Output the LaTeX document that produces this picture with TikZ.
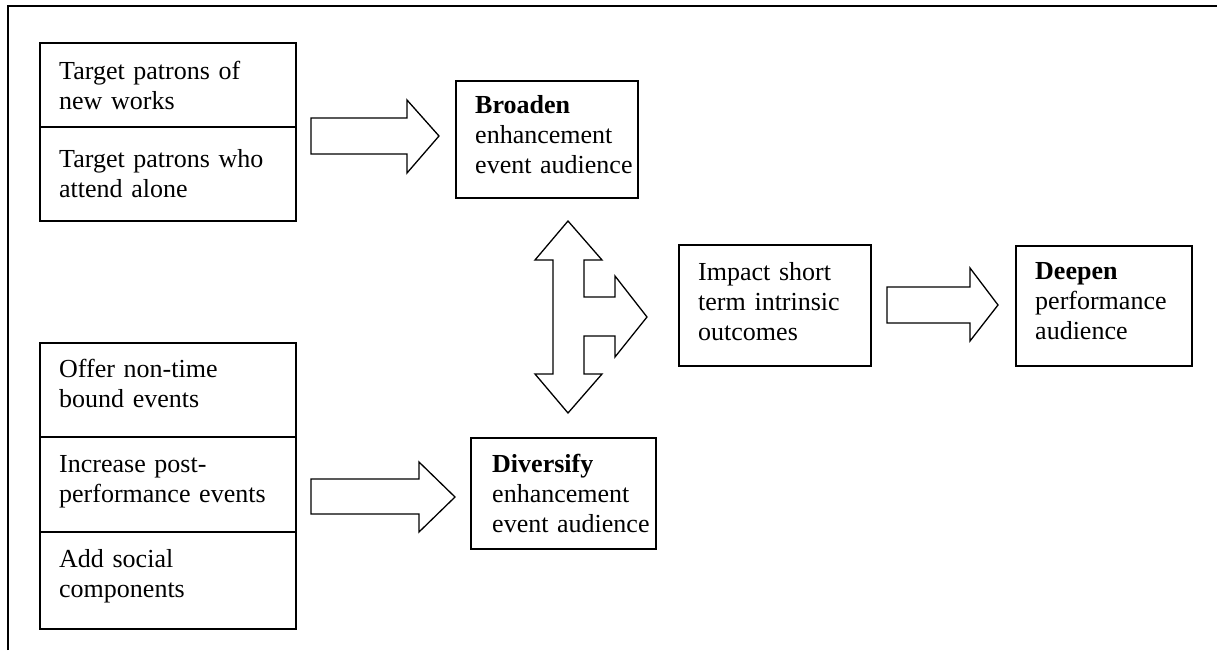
\documentclass[tikz,border=0pt]{standalone}
\usepackage{fontspec}
\setmainfont{Liberation Serif}
\begin{document}
\begin{tikzpicture}[x=1pt,y=-1pt,
  frame/.style={line width=1.8pt},
  cellbox/.style={draw, line width=1.6pt, inner sep=0pt, anchor=north west},
  divider/.style={line width=1.6pt},
  txt/.style={inner sep=0pt, anchor=north west, align=left, text width=240pt, font=\fontsize{26}{30}\selectfont},
  blockarrow/.style={draw, line width=1.3pt, fill=white, line join=miter}]
\useasboundingbox (0,0) rectangle (1217,650);
% outer frame
\draw[frame] (8,650) -- (8,6) -- (1217,6);

% boxes
\node[cellbox, minimum width=256pt, minimum height=178pt] (patrons) at (39,42) {};
\draw[divider] (39,127) -- (295,127);
\node[cellbox, minimum width=256pt, minimum height=286pt] (events) at (39,342) {};
\draw[divider] (39,437) -- (295,437);
\draw[divider] (39,532) -- (295,532);
\node[cellbox, minimum width=182pt, minimum height=117pt] (broaden) at (455,80) {};
\node[cellbox, minimum width=185pt, minimum height=111pt] (diversify) at (470,437) {};
\node[cellbox, minimum width=192pt, minimum height=121pt] (impact) at (678,244) {};
\node[cellbox, minimum width=176pt, minimum height=120pt] (deepen) at (1015,245) {};

% texts
\node[txt] (t1) at (59,58) {\strut Target patrons of\\new works};
\node[txt] (t2) at (59,146) {\strut Target patrons who\\attend alone};
\node[txt] (t3) at (59,356) {\strut Offer non-time\\bound events};
\node[txt] (t4) at (59,451) {\strut Increase post-\\performance events};
\node[txt] (t5) at (59,546) {\strut Add social\\components};
\node[txt] (tb) at (475,92) {\strut\textbf{Broaden}\\enhancement\\event audience};
\node[txt] (td) at (492,451) {\strut\textbf{Diversify}\\enhancement\\event audience};
\node[txt] (ti) at (698,259) {\strut Impact short\\term intrinsic\\outcomes};
\node[txt] (tp) at (1035,258) {\strut\textbf{Deepen}\\performance\\audience};

% block arrows
\draw[blockarrow] (311,118) -- (407,118) -- (407,100) -- (439,136) -- (407,173) -- (407,154) -- (311,154) -- cycle;
\draw[blockarrow] (311,479) -- (419,479) -- (419,462) -- (455,497) -- (419,532) -- (419,514) -- (311,514) -- cycle;
\draw[blockarrow] (887,287) -- (970,287) -- (970,268) -- (998,305) -- (970,341) -- (970,323) -- (887,323) -- cycle;
\draw[blockarrow] (568,221) -- (602,260) -- (584,260) -- (584,297) -- (615,297) -- (615,276) -- (647,317)
  -- (615,357) -- (615,336) -- (584,336) -- (584,374) -- (602,374) -- (568,413) -- (535,374)
  -- (553,374) -- (553,260) -- (535,260) -- cycle;
\end{tikzpicture}
\end{document}
